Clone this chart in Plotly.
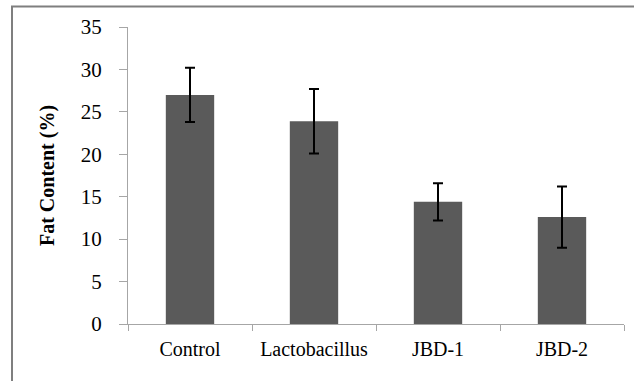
import plotly.graph_objects as go

categories = ["Control", "Lactobacillus", "JBD-1", "JBD-2"]
fat_content = [27.0, 23.9, 14.4, 12.6]
std_dev = [3.2, 3.8, 2.2, 3.6]
y_ticks = [0, 5, 10, 15, 20, 25, 30, 35]

W, H = 634, 381
L, R, T, B = 128, 10, 27, 57
pw, ph = W - L - R, H - T - B

fig = go.Figure(
    go.Bar(
        x=categories,
        y=fat_content,
        marker=dict(color="#5a5a5a", line=dict(width=0)),
        error_y=dict(type="data", array=std_dev, visible=True,
                     color="#000000", thickness=2, width=5),
        width=0.39,
    )
)

font = dict(family="Liberation Serif, Times New Roman, serif", size=20, color="#000000")

fig.update_layout(
    width=W, height=H,
    margin=dict(l=L, r=R, t=T, b=B),
    paper_bgcolor="white", plot_bgcolor="white",
    showlegend=False,
    font=font,
    xaxis=dict(
        range=[-0.5, 3.5],
        showline=True, linecolor="#a6a6a6", linewidth=1,
        ticks="outside", tickson="boundaries", ticklen=6, tickcolor="#a6a6a6",
        showgrid=False, zeroline=False,
        ticklabelstandoff=7,
    ),
    yaxis=dict(
        range=[0, 35], tickvals=y_ticks,
        showline=True, linecolor="#a6a6a6", linewidth=1,
        ticks="outside", ticklen=8, tickcolor="#a6a6a6",
        showgrid=False, zeroline=False,
        tickfont=dict(size=21),
        ticklabelstandoff=13,
        title=dict(text="<b>Fat Content (%)</b>", font=dict(size=20), standoff=20),
    ),
)

# outer frame around the chart area
fig.add_shape(
    type="rect", xref="paper", yref="paper",
    x0=(12 - L) / pw, x1=1 + (W + 20 - L - pw) / pw,
    y0=-(B + 20) / ph, y1=1 + (T - 6.5) / ph,
    line=dict(color="#7f7f7f", width=2), fillcolor="rgba(0,0,0,0)",
    layer="below",
)

fig.write_html("out.html")
